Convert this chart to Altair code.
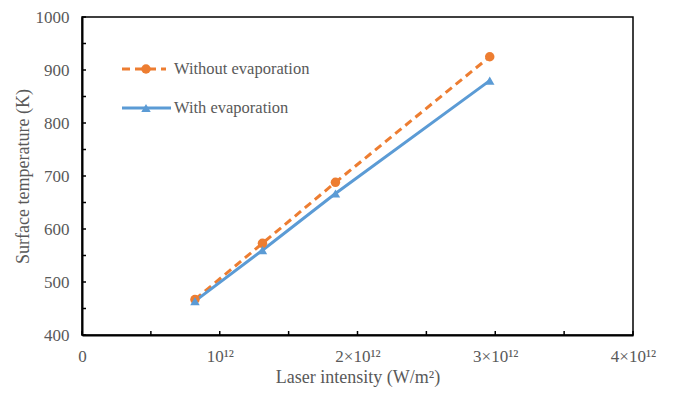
import altair as alt
import pandas as pd

intensity = [0.82e12, 1.31e12, 1.84e12, 2.96e12]
temp_without = [467, 573, 688, 925]
temp_with = [464, 560, 667, 880]
series = ["Without evaporation", "With evaporation"]
colors = ["#ED7D31", "#5B9BD5"]
x_ticks = [0, 0.5e12, 1e12, 1.5e12, 2e12, 2.5e12, 3e12, 3.5e12, 4e12]
y_ticks = list(range(400, 1001, 50))

df = pd.DataFrame({
    "x": intensity * 2,
    "y": temp_without + temp_with,
    "s": [series[0]] * 4 + [series[1]] * 4,
})

FONT = "Liberation Serif"
GREY = "#595959"
H = 318

xscale = alt.Scale(domain=[0, 4e12], nice=False)
yscale = alt.Scale(domain=[400, 1000], nice=False)

xenc = alt.X("x:Q", scale=xscale,
             axis=alt.Axis(title="Laser intensity (W/m²)",
                           values=x_ticks,
                           labelExpr="datum.value==0?'0':datum.value==1e12?'10¹²':datum.value==2e12?'2×10¹²':datum.value==3e12?'3×10¹²':datum.value==4e12?'4×10¹²':''",
                           labelFlush=False,
                           ticks=False, labelPadding=13, grid=False, titlePadding=4))
yenc = alt.Y("y:Q", scale=yscale,
             axis=alt.Axis(title="Surface temperature (K)",
                           values=y_ticks,
                           labelExpr="datum.value % 100 == 0 ? datum.value : ''",
                           labelFlush=False,
                           ticks=False, labelPadding=13, grid=False, titlePadding=3))

base = alt.Chart(df)
orange = base.transform_filter(alt.datum.s == series[0])
blue = base.transform_filter(alt.datum.s == series[1])

l1 = orange.mark_line(color=colors[0], strokeWidth=3, strokeDash=[8, 5]).encode(x=xenc, y=yenc)
p1 = orange.mark_point(color=colors[0], filled=True, opacity=1, size=90, shape="circle").encode(x=xenc, y=yenc)
l2 = blue.mark_line(color=colors[1], strokeWidth=3).encode(x=xenc, y=yenc)
p2 = blue.mark_point(color=colors[1], filled=True, opacity=1, size=90, shape="triangle-up").encode(x=xenc, y=yenc)

# inside tick marks
xt = alt.Chart(pd.DataFrame({"x": x_ticks})).mark_rule(color="black", strokeWidth=1.5).encode(
    x=xenc, y=alt.value(H), y2=alt.value(H - 4))
yt = alt.Chart(pd.DataFrame({"y": y_ticks})).mark_rule(color="black", strokeWidth=1.5).encode(
    y=yenc, x=alt.value(0), x2=alt.value(4))

# manual legend
leg = pd.DataFrame({"s": series, "c": colors, "row": [0, 1]})
legbase = alt.Chart(leg)
r0 = legbase.transform_filter(alt.datum.row == 0)
r1 = legbase.transform_filter(alt.datum.row == 1)
lg1 = r0.mark_rule(color=colors[0], strokeWidth=3, strokeDash=[8, 5]).encode(
    x=alt.value(40), x2=alt.value(84), y=alt.value(52))
lg1p = r0.mark_point(color=colors[0], filled=True, opacity=1, size=90, shape="circle").encode(
    x=alt.value(64), y=alt.value(52))
lg1t = r0.mark_text(align="left", baseline="middle", font=FONT, fontSize=16.5, color=GREY).encode(
    x=alt.value(92), y=alt.value(52), text="s:N")
lg2 = r1.mark_rule(color=colors[1], strokeWidth=3).encode(
    x=alt.value(40), x2=alt.value(89), y=alt.value(91))
lg2p = r1.mark_point(color=colors[1], filled=True, opacity=1, size=90, shape="triangle-up").encode(
    x=alt.value(64), y=alt.value(91))
lg2t = r1.mark_text(align="left", baseline="middle", font=FONT, fontSize=16.5, color=GREY).encode(
    x=alt.value(92), y=alt.value(91), text="s:N")

chart = alt.layer(l1, l2, p1, p2, xt, yt, lg1, lg1p, lg1t, lg2, lg2p, lg2t).properties(
    width=551, height=H,
    autosize=alt.AutoSizeParams(type="none"),
    padding={"left": 74, "top": 9, "right": 38, "bottom": 55},
).configure_view(stroke="black", strokeWidth=1.5).configure_axis(
    domainColor="black", domainWidth=2,
    labelFont=FONT, titleFont=FONT, labelFontSize=17, titleFontSize=18,
    labelColor=GREY, titleColor=GREY, titleFontWeight="normal",
)

chart.save("out.html", embed_options={"renderer": "svg", "actions": False})
